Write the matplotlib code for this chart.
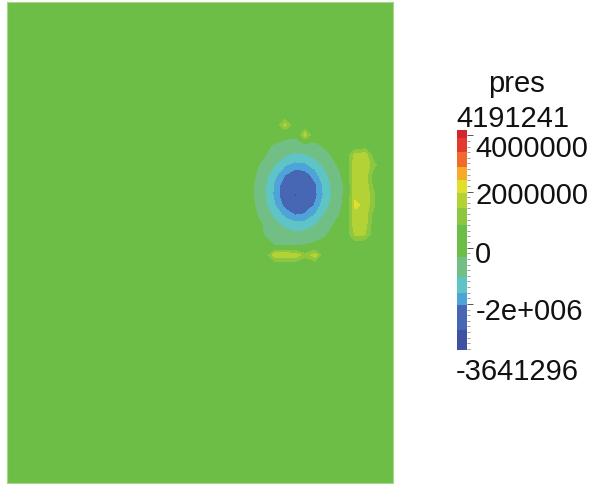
import numpy as np
import matplotlib
matplotlib.use("Agg")
import matplotlib.pyplot as plt
from matplotlib.colors import ListedColormap, BoundaryNorm
from matplotlib.ticker import MultipleLocator, FixedLocator
import matplotlib.transforms as mtransforms

# ---------------- data ----------------
field_title = "pres"
data_min = -3641296
data_max = 4191241

# colour bands of the lookup table (value edges, bottom -> top)
band_edges = [-3641296, -2929000, -2040000, -1610000, -1040000, -330000,
              810000, 1410000, 1950000, 2410000, 2870000, 3410000, 3910000, 4191241]
band_colors = ["#3f51a3", "#4767b4", "#4ea3d8", "#5ec4c6", "#72bf86", "#6dbe46",
               "#8fc63f", "#b2d235", "#e0df2b", "#f6ab27", "#ef6a2b", "#e33a2d", "#d2262a"]

tick_values = [4000000, 2000000, 0, -2000000]
tick_labels = ["4000000", "2000000", "0", "-2e+006"]

background_pressure = 0.2e6   # value of the undisturbed field

# domain size (field units) and sample grid around the disturbance
domain_w, domain_h = 386, 481
grid_x = np.arange(238, 379, 10)   # 15 columns
grid_y = np.arange(113, 264, 10)   # 16 rows (top -> bottom)

# pressure samples, in units of 1e6
pres_grid = np.array([
    [0.20, 0.20, 0.20, 0.20, 0.20, 0.20, 0.20, 0.20, 0.20, 0.20, 0.20, 0.20, 0.20, 0.20, 0.20],
    [0.20, 0.20, 0.20, 0.13, 1.70, 0.06, 0.07, 0.10, 0.16, 0.20, 0.20, 0.20, 0.20, 0.20, 0.20],
    [0.20, 0.19, 0.09, -0.03, -0.16, -0.22, 1.75, -0.12, 0.04, 0.13, 0.20, 0.20, 0.20, 0.20, 0.20],
    [0.20, 0.10, -0.20, -0.40, -0.52, -0.64, -0.61, -0.44, -0.22, 0.01, 0.14, 0.20, 0.20, 0.20, 0.20],
    [0.14, -0.03, -0.31, -0.69, -0.99, -1.17, -1.11, -0.88, -0.54, -0.20, 0.07, 1.60, 1.75, 0.20, 0.20],
    [0.09, -0.19, -0.60, -1.06, -1.57, -1.81, -1.75, -1.39, -0.89, -0.40, -0.05, 1.90, 1.92, 0.90, 0.20],
    [0.05, -0.30, -0.84, -1.49, -2.05, -2.36, -2.28, -1.85, -1.20, -0.62, -0.16, 1.80, 1.80, 0.20, 0.20],
    [-0.01, -0.39, -0.98, -1.74, -2.38, -2.77, -2.68, -2.14, -1.44, -0.74, -0.23, 1.85, 1.85, 0.40, 0.20],
    [-0.02, -0.41, -1.00, -1.78, -2.44, -3.00, -2.74, -2.19, -1.48, -0.77, -0.24, 1.85, 1.90, 0.80, 0.20],
    [0.02, -0.34, -0.91, -1.62, -2.21, -2.57, -2.46, -2.00, -1.32, -0.68, -0.20, 2.05, 1.85, 0.80, 0.20],
    [0.07, -0.24, -0.70, -1.24, -1.77, -2.05, -1.98, -1.60, -1.00, -0.50, -0.10, 1.80, 1.80, 0.20, 0.20],
    [0.12, -0.09, -0.43, -0.84, -1.21, -1.43, -1.37, -1.06, -0.68, -0.27, 0.03, 1.80, 1.70, 0.20, 0.20],
    [0.19, 0.07, -0.40, -0.45, -0.71, -0.84, -0.80, -0.62, -0.40, -0.08, 0.12, 1.50, 1.40, 0.20, 0.20],
    [0.20, 0.15, 0.05, -0.40, -0.45, -0.45, -0.30, -0.23, -0.07, 0.08, 0.20, 0.20, 0.20, 0.20, 0.20],
    [0.20, 0.20, 0.16, 1.90, 1.90, 1.85, 1.00, 1.75, 0.11, 0.19, 0.20, 0.20, 0.20, 0.20, 0.20],
    [0.20, 0.20, 0.20, 0.20, 0.20, 0.20, 0.20, 0.20, 0.20, 0.20, 0.20, 0.20, 0.20, 0.20, 0.20],
]) * 1e6

# ---------------- figure ----------------
W, H = 599, 484
fig = plt.figure(figsize=(W / 100, H / 100), dpi=100)
fig.patch.set_facecolor("white")

cmap = ListedColormap(band_colors)
norm = BoundaryNorm(band_edges, cmap.N)

ax = fig.add_axes([7 / W, 1 - 483 / H, 386 / W, 481 / H])
ax.set_xlim(0, domain_w)
ax.set_ylim(domain_h, 0)
ax.set_facecolor(cmap(norm(background_pressure)))
ax.contourf(grid_x, grid_y, pres_grid, levels=band_edges, cmap=cmap, norm=norm,
            antialiased=False)
ax.set_xticks([])
ax.set_yticks([])
for sp in ax.spines.values():
    sp.set_color("#a6d68a")
    sp.set_linewidth(0.8)

# ---------------- colour bar ----------------
font = "Liberation Sans"
fs = 21
cax = fig.add_axes([457 / W, 1 - 350 / H, 10 / W, 220 / H])
sm = matplotlib.cm.ScalarMappable(norm=norm, cmap=cmap)
cb = fig.colorbar(sm, cax=cax, spacing="proportional", drawedges=False)
cb.outline.set_visible(False)
cax.set_ylim(data_min, data_max)
cax.yaxis.set_major_locator(FixedLocator(tick_values))
cax.set_yticklabels(tick_labels)
cax.yaxis.set_minor_locator(MultipleLocator(200000))
cax.tick_params(axis="y", which="major", length=4.5, width=0.7, color="#555555",
                pad=1.5, labelsize=fs, labelcolor="#111111")
cax.tick_params(axis="y", which="minor", length=2.5, width=0.5, color="#777777")
for lab in cax.get_yticklabels():
    lab.set_fontfamily(font)

# ParaView nudges the labels: shift the top one down into the bar
label_shift_px = [11, 1, 4, 5]
for lab, dy in zip(cax.get_yticklabels(), label_shift_px):
    lab.set_transform(lab.get_transform() +
                      mtransforms.ScaledTranslation(0, -dy / 100, fig.dpi_scale_trans))

fig.text(516 / W, 1 - 84 / H, field_title, ha="center", va="center",
         fontsize=fs, family=font, color="#111111")
fig.text(456 / W, 1 - 127 / H, f"{data_max}", ha="left", va="baseline",
         fontsize=fs, family=font, color="#111111")
fig.text(456 / W, 1 - 380 / H, f"{data_min}", ha="left", va="baseline",
         fontsize=fs, family=font, color="#111111")

fig.savefig("out.png", dpi=100, facecolor="white")
